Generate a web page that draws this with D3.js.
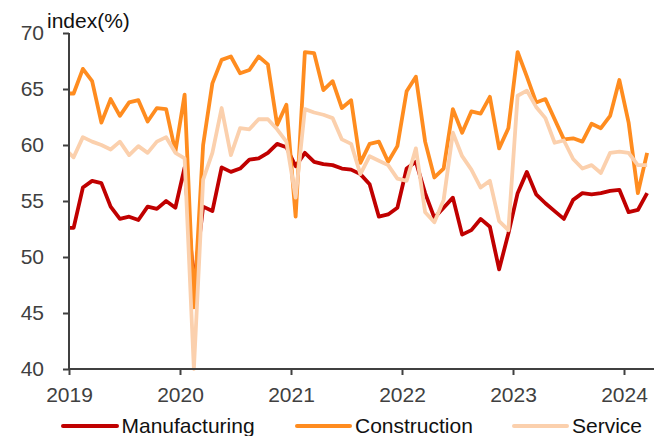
<!DOCTYPE html>
<html>
<head>
<meta charset="utf-8">
<script src="https://cdn.jsdelivr.net/npm/d3@7"></script>
<style>
  html, body { margin: 0; padding: 0; background: #fff; }
  svg { display: block; font-family: "Liberation Sans", Arial, sans-serif; }
</style>
</head>
<body>
<svg id="chart" width="654" height="436"></svg>
<script>
// Monthly index readings, Dec 2018 through Mar 2024 (first entry is Dec 2018)
const startYear = 2018, startMonth = 11; // month index 11 = December
const manufacturing = [
  52.6,
  52.6, 56.2, 56.8, 56.6, 54.5, 53.4, 53.6, 53.3, 54.5, 54.3, 55.0, 54.4,
  58.0, 47.5, 54.5, 54.1, 58.0, 57.6, 57.9, 58.7, 58.8, 59.3, 60.1, 59.8,
  58.1, 59.3, 58.5, 58.3, 58.2, 57.9, 57.8, 57.4, 56.5, 53.6, 53.8, 54.4,
  57.9, 58.5, 55.7, 53.5, 54.4, 55.3, 52.0, 52.4, 53.4, 52.7, 48.9, 52.1,
  55.7, 57.6, 55.6, 54.8, 54.1, 53.4, 55.1, 55.7, 55.6, 55.7, 55.9, 56.0,
  54.0, 54.2, 55.7
];
const construction = [
  64.6,
  64.6, 66.8, 65.7, 62.0, 64.1, 62.6, 63.8, 64.0, 62.1, 63.3, 63.2, 59.4,
  64.5, 45.5, 60.0, 65.5, 67.6, 67.9, 66.4, 66.7, 67.9, 67.2, 61.8, 63.6,
  53.6, 68.3, 68.2, 64.9, 65.7, 63.3, 64.0, 58.4, 60.1, 60.3, 58.5, 59.9,
  64.8, 66.1, 60.3, 57.1, 57.9, 63.2, 61.1, 63.0, 62.8, 64.3, 59.7, 61.5,
  68.3, 66.1, 63.8, 64.1, 62.3, 60.5, 60.6, 60.3, 61.9, 61.5, 62.6, 65.8,
  62.0, 55.7, 59.3
];
const service = [
  59.7,
  58.9, 60.7, 60.3, 60.0, 59.6, 60.3, 59.1, 59.9, 59.3, 60.3, 60.7, 59.3,
  58.8, 40.0, 56.9, 59.3, 63.3, 59.1, 61.5, 61.4, 62.3, 62.3, 61.4, 60.3,
  55.3, 63.2, 62.9, 62.7, 62.4, 60.5, 60.1, 57.4, 59.0, 58.6, 58.2, 57.0,
  56.8, 59.7, 54.0, 53.1, 55.1, 61.1, 59.0, 57.8, 56.2, 56.8, 53.2, 52.4,
  64.4, 64.85, 63.4, 62.4, 60.2, 60.4, 58.75, 57.9, 58.2, 57.5, 59.3, 59.4,
  59.3, 58.2, 58.2
];
const seriesNames = ["Manufacturing", "Construction", "Service"];
const seriesColors = ["#C00000", "#FF8C1F", "#FBD0AD"];
const yearTicks = [2019, 2020, 2021, 2022, 2023, 2024];
const yTicks = [40, 45, 50, 55, 60, 65, 70];

const svg = d3.select("#chart");
const plotLeft = 69, plotRight = 654, plotTop = 33, plotBottom = 369;

// months counted from Jan 2019; each point sits mid-month
const x = d3.scaleLinear().domain([0, 60]).range([plotLeft, 624]);
const y = d3.scaleLinear().domain([40, 70]).range([plotBottom, plotTop]);

const monthOffset = (startYear - 2019) * 12 + startMonth; // -1 for Dec 2018

svg.append("clipPath").attr("id", "plot-clip")
  .append("rect").attr("x", plotLeft).attr("y", 0)
  .attr("width", plotRight - plotLeft).attr("height", plotBottom + 2);

const line = d3.line()
  .x((d, i) => x(monthOffset + i + 0.5))
  .y(d => y(d));

const plot = svg.append("g").attr("clip-path", "url(#plot-clip)");
[manufacturing, construction, service].forEach((vals, k) => {
  plot.append("path")
    .datum(vals)
    .attr("d", line)
    .attr("fill", "none")
    .attr("stroke", seriesColors[k])
    .attr("stroke-width", 3.8)
    .attr("stroke-linejoin", "round")
    .attr("stroke-linecap", "butt");
});

const axisColor = "#404040";
const fontFam = "'Liberation Sans', Arial, sans-serif";

// y axis
const yAxis = svg.append("g")
  .attr("transform", `translate(${plotLeft},0)`)
  .call(d3.axisLeft(y).tickValues(yTicks).tickSize(6).tickPadding(19).tickFormat(d3.format("d")));
yAxis.select(".domain").attr("stroke", axisColor).attr("stroke-width", 2)
  .attr("d", `M0,${plotTop}V${plotBottom}`);
yAxis.selectAll(".tick line").attr("stroke", axisColor).attr("stroke-width", 2);
yAxis.selectAll(".tick text").attr("fill", axisColor)
  .style("font-size", "21px").style("font-family", fontFam);

// x axis with year ticks
const xAxis = svg.append("g")
  .attr("transform", `translate(0,${plotBottom})`)
  .call(d3.axisBottom(x)
    .tickValues(yearTicks.map(yr => (yr - 2019) * 12))
    .tickFormat((d, i) => yearTicks[i])
    .tickSize(6).tickPadding(12));
xAxis.select(".domain").attr("stroke", axisColor).attr("stroke-width", 2)
  .attr("d", `M${plotLeft},0H${plotRight}`);
xAxis.selectAll(".tick line").attr("stroke", axisColor).attr("stroke-width", 2);
xAxis.selectAll(".tick text").attr("fill", axisColor)
  .style("font-size", "21px").style("font-family", fontFam);

// axis title
svg.append("text")
  .attr("x", 47).attr("y", 28)
  .attr("fill", "#111")
  .style("font-size", "21px")
  .text("index(%)");

// legend
const legendItems = [
  { x0: 63, x1: 117, tx: 121.5 },
  { x0: 297, x1: 350, tx: 355 },
  { x0: 514, x1: 567, tx: 572 }
];
const legendY = 426;
legendItems.forEach((it, k) => {
  svg.append("line")
    .attr("x1", it.x0).attr("x2", it.x1)
    .attr("y1", legendY).attr("y2", legendY)
    .attr("stroke", seriesColors[k]).attr("stroke-width", 4)
    .attr("stroke-linecap", "round");
  svg.append("text")
    .attr("x", it.tx).attr("y", 433)
    .attr("fill", "#111")
    .style("font-size", "21px")
    .text(seriesNames[k]);
});
</script>
</body>
</html>
